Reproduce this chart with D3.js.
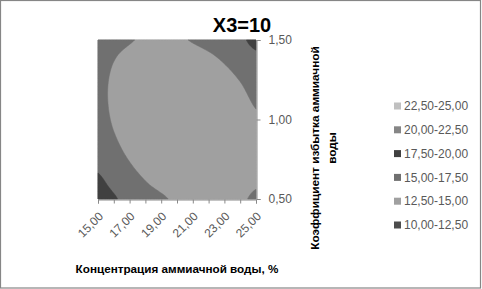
<!DOCTYPE html>
<html>
<head>
<meta charset="utf-8">
<script src="https://cdn.jsdelivr.net/npm/d3@7"></script>
<style>
  body { margin: 0; background: #fff; }
  text { font-family: "Liberation Sans", Arial, sans-serif; }
</style>
</head>
<body>
<div id="chart"></div>
<script>
'use strict'

////////////////////////////////////
////////////// data ////////////////
////////////////////////////////////

// концентрация аммиачной воды, % (columns)
const xValues = [15, 16, 17, 18, 19, 20, 21, 22, 23, 24, 25]
const xLabels = [15, 17, 19, 21, 23, 25]

// коэффициент избытка (rows, from 0,50 up to 1,50)
const yValues = [0.5, 0.6, 0.7, 0.8, 0.9, 1.0, 1.1, 1.2, 1.3, 1.4, 1.5]
const yLabels = [0.5, 1.0, 1.5]

// surface values, one row per y value
const surface = [
    [18.98, 17.76, 16.73, 15.88, 15.23, 14.76, 14.48, 14.39, 14.48, 14.76, 15.24],
    [18.03, 16.87, 15.89, 15.10, 14.50, 14.09, 13.86, 13.83, 13.98, 14.32, 14.84],
    [17.23, 16.12, 15.20, 14.47, 13.92, 13.57, 13.40, 13.42, 13.63, 14.02, 14.60],
    [16.58, 15.53, 14.66, 13.99, 13.50, 13.20, 13.08, 13.16, 13.42, 13.87, 14.51],
    [16.08, 15.09, 14.28, 13.66, 13.22, 12.98, 12.92, 13.05, 13.37, 13.88, 14.57],
    [15.73, 14.79, 14.04, 13.47, 13.10, 12.91, 12.91, 13.09, 13.47, 14.03, 14.78],
    [15.54, 14.65, 13.95, 13.44, 13.12, 12.99, 13.04, 13.29, 13.72, 14.34, 15.14],
    [15.49, 14.66, 14.02, 13.56, 13.30, 13.22, 13.33, 13.63, 14.12, 14.79, 15.65],
    [15.59, 14.82, 14.23, 13.83, 13.63, 13.60, 13.77, 14.12, 14.67, 15.40, 16.32],
    [15.84, 15.13, 14.60, 14.25, 14.10, 14.14, 14.36, 14.77, 15.37, 16.15, 17.13],
    [16.25, 15.59, 15.11, 14.83, 14.73, 14.82, 15.10, 15.56, 16.22, 17.06, 18.09]
]

const thresholds = [10, 12.5, 15, 17.5, 20, 22.5]
const bandLabels = ['10,00-12,50', '12,50-15,00', '15,00-17,50', '17,50-20,00', '20,00-22,50', '22,50-25,00']
const bandColors = ['#4d4d4d', '#a0a0a0', '#707070', '#404040', '#868686', '#c0c0c0']

////////////////////////////////////
//////////// svg setup /////////////
////////////////////////////////////

const svgWidth = 482
const svgHeight = 289

const plot = { left: 98, right: 256, top: 40, bottom: 199 }

const svg = d3.select('#chart')
    .append('svg')
    .attr('width', svgWidth)
    .attr('height', svgHeight)

// outer chart border
svg.append('rect')
    .attr('x', 0.5)
    .attr('y', 0.5)
    .attr('width', svgWidth - 2)
    .attr('height', svgHeight - 1.5)
    .attr('fill', '#fff')
    .attr('stroke', '#868686')
    .attr('stroke-width', 1.2)

////////////////////////////////////
////////////// scales //////////////
////////////////////////////////////

const xScale = d3.scaleLinear()
    .domain(d3.extent(xValues))
    .range([plot.left, plot.right])

const yScale = d3.scaleLinear()
    .domain(d3.extent(yValues))
    .range([plot.bottom, plot.top])

const fmt = v => d3.format('.2f')(v).replace('.', ',')

////////////////////////////////////
///////////// contours /////////////
////////////////////////////////////

// smooth resample of the grid (catmull-rom) so the bands are not angular
const nx = xValues.length
const ny = yValues.length
const k = 10
const fx = (nx - 1) * k + 1
const fy = (ny - 1) * k + 1

function cr(p0, p1, p2, p3, t) {
    return 0.5 * ((2 * p1) + (-p0 + p2) * t +
        (2 * p0 - 5 * p1 + 4 * p2 - p3) * t * t +
        (-p0 + 3 * p1 - 3 * p2 + p3) * t * t * t)
}

function at(i, j) {
    i = Math.max(0, Math.min(nx - 1, i))
    j = Math.max(0, Math.min(ny - 1, j))
    return surface[j][i]
}

function sample(gx, gy) {
    const i = Math.min(Math.floor(gx), nx - 2)
    const j = Math.min(Math.floor(gy), ny - 2)
    const tx = gx - i
    const ty = gy - j
    const rows = []
    for (let dj = -1; dj <= 2; dj++) {
        rows.push(cr(at(i - 1, j + dj), at(i, j + dj), at(i + 1, j + dj), at(i + 2, j + dj), tx))
    }
    return cr(rows[0], rows[1], rows[2], rows[3], ty)
}

const fine = new Array(fx * fy)
for (let r = 0; r < fy; r++) {
    for (let c = 0; c < fx; c++) {
        fine[r * fx + c] = sample(c / k, r / k)
    }
}

const contours = d3.contours()
    .size([fx, fy])
    .thresholds(thresholds)(fine)

const gxScale = d3.scaleLinear().domain([0.5, fx - 0.5]).range([plot.left, plot.right]).clamp(true)
const gyScale = d3.scaleLinear().domain([0.5, fy - 0.5]).range([plot.bottom, plot.top]).clamp(true)

const path = d3.geoPath(d3.geoTransform({
    point: function (x, y) { this.stream.point(gxScale(x), gyScale(y)) }
}))

svg.append('g')
    .selectAll('path')
    .data(contours)
    .join('path')
    .attr('d', path)
    .attr('fill', (d, i) => bandColors[i])
    .attr('stroke', (d, i) => bandColors[i])
    .attr('stroke-width', 0.5)

////////////////////////////////////
/////////////// axes ///////////////
////////////////////////////////////

const axisColor = '#898989'
const labelColor = '#595959'

const xAxis = svg.append('g')
    .attr('transform', `translate(0,${plot.bottom + 0.5})`)
    .call(d3.axisBottom(xScale).tickValues(xValues).tickSize(4).tickFormat(''))

xAxis.select('.domain').attr('stroke', axisColor)
xAxis.selectAll('.tick line').attr('stroke', axisColor)

svg.append('g')
    .selectAll('text')
    .data(xLabels)
    .join('text')
    .attr('transform', d => `translate(${xScale(d) + 3},${plot.bottom + 15}) rotate(-45)`)
    .attr('text-anchor', 'end')
    .attr('dy', '0.35em')
    .attr('font-size', 12)
    .attr('fill', labelColor)
    .text(fmt)

const yAxis = svg.append('g')
    .attr('transform', `translate(${plot.right + 0.5},0)`)
    .call(d3.axisRight(yScale).tickValues(yLabels).tickSize(4).tickPadding(8).tickFormat(fmt))

yAxis.select('.domain').attr('stroke', axisColor)
yAxis.selectAll('.tick line').attr('stroke', axisColor)
yAxis.selectAll('.tick text')
    .attr('font-size', 12)
    .attr('font-family', '"Liberation Sans", Arial, sans-serif')
    .attr('fill', labelColor)

////////////////////////////////////
////////////// titles //////////////
////////////////////////////////////

svg.append('text')
    .attr('x', 242)
    .attr('y', 32)
    .attr('text-anchor', 'middle')
    .attr('font-size', 20)
    .attr('font-weight', 'bold')
    .attr('fill', '#000')
    .text('X3=10')

svg.append('text')
    .attr('x', 177)
    .attr('y', 273)
    .attr('text-anchor', 'middle')
    .attr('font-size', 11.7)
    .attr('font-weight', 'bold')
    .attr('fill', '#000')
    .text('Концентрация аммиачной воды, %')

const yTitle = svg.append('text')
    .attr('transform', 'translate(319,148) rotate(-90)')
    .attr('text-anchor', 'middle')
    .attr('font-size', 11.8)
    .attr('font-weight', 'bold')
    .attr('fill', '#000')

yTitle.append('tspan').attr('x', 0).attr('dy', 0).text('Коэффициент избытка аммиачной')
yTitle.append('tspan').attr('x', 0).attr('dy', 16.5).text('воды')

////////////////////////////////////
////////////// legend //////////////
////////////////////////////////////

const legendOrder = d3.range(bandLabels.length).reverse()

const legend = svg.append('g')
    .selectAll('g')
    .data(legendOrder)
    .join('g')
    .attr('transform', (d, i) => `translate(394,${106 + i * 23.8})`)

legend.append('rect')
    .attr('x', 0)
    .attr('y', -3.5)
    .attr('width', 7)
    .attr('height', 7)
    .attr('fill', d => bandColors[d])

legend.append('text')
    .attr('x', 10)
    .attr('dy', '0.35em')
    .attr('font-size', 12)
    .attr('fill', labelColor)
    .text(d => bandLabels[d])
</script>
</body>
</html>
